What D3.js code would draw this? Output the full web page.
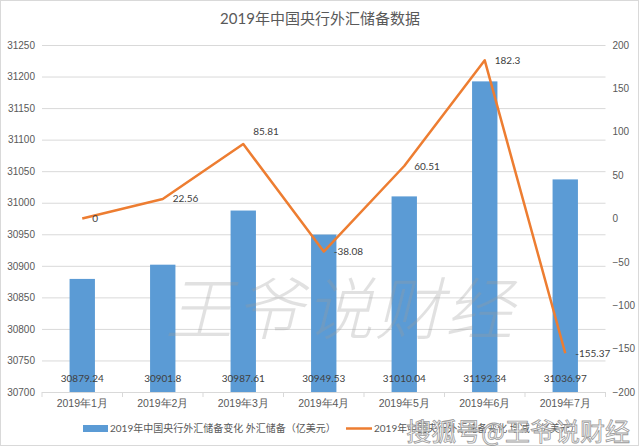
<!DOCTYPE html>
<html>
<head>
<meta charset="utf-8">
<script src="https://cdn.jsdelivr.net/npm/d3@7"></script>
<style>
	body { margin: 0; background: #fff; }
	svg { display: block; font-family: Lato, "Noto Sans CJK SC", sans-serif; }
</style>
</head>
<body>
<svg id="chart" width="640" height="446"></svg>
<script>
"use strict";

// Chart data
const months = ["2019年1月", "2019年2月", "2019年3月", "2019年4月", "2019年5月", "2019年6月", "2019年7月"];
const reserves = [30879.24, 30901.8, 30987.61, 30949.53, 31010.04, 31192.34, 31036.97];
const changes = [0, 22.56, 85.81, -38.08, 60.51, 182.3, -155.37];
const leftTicks = [30700, 30750, 30800, 30850, 30900, 30950, 31000, 31050, 31100, 31150, 31200, 31250];
const rightTicks = [-200, -150, -100, -50, 0, 50, 100, 150, 200];

const title = "2019年中国央行外汇储备数据";
const seriesNames = ["2019年中国央行外汇储备变化 外汇储备（亿美元）", "2019年中国央行外汇储备变化 增减（亿美元）"];

// Layout
const plot = {left: 42, right: 605.5, top: 45, bottom: 392};
const barColor = "#5b9bd5";
const lineColor = "#ed7d31";

const svg = d3.select("#chart");

// outer border
svg.append("rect")
	.attr("x", 0.5).attr("y", 0.5)
	.attr("width", 638).attr("height", 445)
	.attr("fill", "#fff")
	.attr("stroke", "#d9d9d9");

const x = d3.scaleBand()
	.domain(months)
	.range([plot.left, plot.right])
	.paddingInner(0.685)
	.paddingOuter(0.3425);

const xOuter = d3.scaleBand()
	.domain(months)
	.range([plot.left, plot.right]);

const yLeft = d3.scaleLinear()
	.domain([30700, 31250])
	.range([plot.bottom, plot.top]);

const yRight = d3.scaleLinear()
	.domain([-200, 200])
	.range([plot.bottom, plot.top]);

// title
svg.append("text")
	.attr("x", 320).attr("y", 24)
	.attr("text-anchor", "middle")
	.attr("font-size", 15)
	.attr("fill", "#595959")
	.text(title);

// gridlines + left axis
const gLeft = svg.append("g")
	.attr("transform", `translate(${plot.left},0)`)
	.call(d3.axisLeft(yLeft)
		.tickValues(leftTicks)
		.tickSize(-(plot.right - plot.left))
		.tickPadding(7)
		.tickFormat(d3.format("d")));
gLeft.select(".domain").remove();
gLeft.selectAll(".tick line").attr("stroke", "#d9d9d9");
gLeft.selectAll(".tick text")
	.attr("fill", "#595959")
	.attr("font-size", 10);

// right axis
const gRight = svg.append("g")
	.attr("transform", `translate(${plot.right},0)`)
	.call(d3.axisRight(yRight)
		.tickValues(rightTicks)
		.tickSize(0)
		.tickPadding(7));
gRight.select(".domain").remove();
gRight.selectAll(".tick text")
	.attr("fill", "#595959")
	.attr("font-size", 10);

// bars
svg.append("g")
	.selectAll("rect")
	.data(reserves)
	.enter()
	.append("rect")
	.attr("x", (d, i) => x(months[i]))
	.attr("y", d => yLeft(d))
	.attr("width", x.bandwidth())
	.attr("height", d => plot.bottom - yLeft(d))
	.attr("fill", barColor);

// x axis
const gX = svg.append("g")
	.attr("transform", `translate(0,${plot.bottom})`)
	.call(d3.axisBottom(xOuter).tickSize(0).tickPadding(8));
gX.select(".domain").attr("stroke", "#d9d9d9");
gX.selectAll(".tick text")
	.attr("fill", "#595959")
	.attr("font-size", 10.5);
// category boundary ticks
gX.selectAll(".sep")
	.data(d3.range(months.length + 1))
	.enter()
	.append("line")
	.attr("x1", i => plot.left + i * xOuter.step())
	.attr("x2", i => plot.left + i * xOuter.step())
	.attr("y1", 0).attr("y2", 5)
	.attr("stroke", "#d9d9d9");

// bar value labels
svg.append("g")
	.selectAll("text")
	.data(reserves)
	.enter()
	.append("text")
	.attr("x", (d, i) => xOuter(months[i]) + xOuter.bandwidth() / 2)
	.attr("y", plot.bottom - 10)
	.attr("text-anchor", "middle")
	.attr("font-size", 10)
	.attr("fill", "#404040")
	.text(d => d);

// line
const line = d3.line()
	.x((d, i) => xOuter(months[i]) + xOuter.bandwidth() / 2)
	.y(d => yRight(d));

svg.append("path")
	.datum(changes)
	.attr("d", line)
	.attr("fill", "none")
	.attr("stroke", lineColor)
	.attr("stroke-width", 2.5)
	.attr("stroke-linejoin", "round");

// line value labels (to the right of the points)
svg.append("g")
	.selectAll("text")
	.data(changes)
	.enter()
	.append("text")
	.attr("x", (d, i) => xOuter(months[i]) + xOuter.bandwidth() / 2 + 10)
	.attr("y", (d, i) => yRight(d) + (i === 2 ? -13 : 0))
	.attr("dy", "0.35em")
	.attr("font-size", 10)
	.attr("fill", "#404040")
	.text(d => d);

// big watermark
svg.append("text")
	.attr("x", 340).attr("y", 334)
	.attr("text-anchor", "middle")
	.attr("font-family", "'Noto Sans CJK SC', sans-serif")
	.attr("font-weight", 200)
	.attr("font-style", "italic")
	.attr("font-size", 68)
	.attr("letter-spacing", 2)
	.attr("fill", "#9a9a9a")
	.attr("fill-opacity", 0.3)
	.text("王爷说财经");

// legend
const legend = svg.append("g").attr("font-size", 10).attr("fill", "#595959");
legend.append("rect")
	.attr("x", 83).attr("y", 425)
	.attr("width", 25).attr("height", 7)
	.attr("fill", barColor);
legend.append("text")
	.attr("x", 110).attr("y", 432)
	.text(seriesNames[0]);
legend.append("line")
	.attr("x1", 346).attr("x2", 372)
	.attr("y1", 428.5).attr("y2", 428.5)
	.attr("stroke", lineColor)
	.attr("stroke-width", 2.5);
legend.append("text")
	.attr("x", 374).attr("y", 432)
	.text(seriesNames[1]);

// platform watermark
svg.append("text")
	.attr("x", 630).attr("y", 441)
	.attr("text-anchor", "end")
	.attr("font-family", "'Noto Sans CJK SC', sans-serif")
	.attr("font-size", 25)
	.attr("fill", "#fff")
	.attr("fill-opacity", 0.85)
	.attr("stroke", "#9a9a9a")
	.attr("stroke-width", 0.8)
	.text("搜狐号@王爷说财经");
</script>
</body>
</html>
